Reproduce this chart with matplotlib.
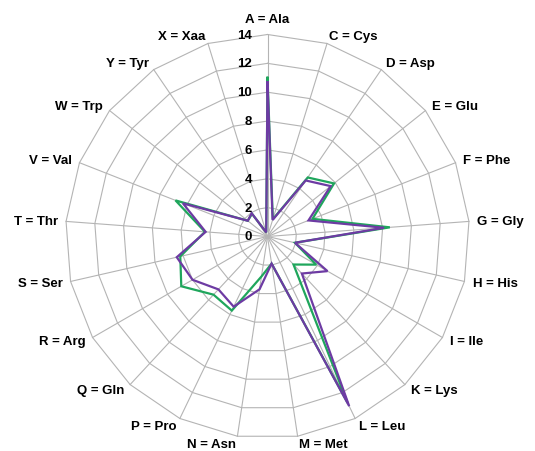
import numpy as np
import matplotlib
matplotlib.use("Agg")
import matplotlib.pyplot as plt

# Amino-acid composition (%) of two sequences, in the order shown clockwise
codes = ['A', 'C', 'D', 'E', 'F', 'G', 'H', 'I', 'K', 'L', 'M',
         'N', 'P', 'Q', 'R', 'S', 'T', 'V', 'W', 'Y', 'X']
names = ['Ala', 'Cys', 'Asp', 'Glu', 'Phe', 'Gly', 'His', 'Ile', 'Lys', 'Leu', 'Met',
         'Asn', 'Pro', 'Gln', 'Arg', 'Ser', 'Thr', 'Val', 'Trp', 'Tyr', 'Xaa']
seq_green = [11.0, 1.25, 4.95, 5.9, 3.35, 8.5, 1.95, 3.9, 2.65, 12.8, 1.9,
             2.8, 5.7, 5.5, 6.9, 6.2, 4.35, 6.85, 1.75, 1.9, 0.3]
seq_purple = [10.7, 1.2, 4.7, 5.6, 3.05, 8.1, 1.95, 4.8, 3.5, 13.05, 1.9,
              3.7, 5.4, 5.0, 6.0, 6.45, 4.3, 6.3, 1.75, 1.95, 0.3]
ring_values = [0, 2, 4, 6, 8, 10, 12, 14]

plt.rcParams['font.family'] = ['Liberation Sans', 'DejaVu Sans']

W, H = 535, 452
fig = plt.figure(figsize=(W / 100, H / 100), dpi=100)
cx, cy, R = 267.5, 237.5, 202.0
ax = fig.add_axes([(cx - R) / W, (H - cy - R) / H, 2 * R / W, 2 * R / H],
                  projection='polar')
ax.set_theta_zero_location('N')
ax.set_theta_direction(-1)
ax.set_ylim(0, ring_values[-1])
ax.set_xticks([])
ax.set_yticks([])
ax.grid(False)
ax.spines['polar'].set_visible(False)
ax.patch.set_alpha(0)

n = len(codes)
angles = np.arange(n) * 2 * np.pi / n
closed = np.append(angles, angles[0])
grid_col = '#b4b4b4'

# polygonal rings and spokes
for r in ring_values[1:]:
    ax.plot(closed, [r] * (n + 1), color=grid_col, lw=0.8, zorder=1, clip_on=False)
for a in angles:
    ax.plot([a, a], [0, ring_values[-1]], color=grid_col, lw=0.8, zorder=1, clip_on=False)

# data series
ax.plot(closed, seq_green + seq_green[:1], color='#1fa65c', lw=1.6, zorder=3,
        solid_joinstyle='miter', clip_on=False)
ax.plot(closed, seq_purple + seq_purple[:1], color='#6d3ba3', lw=1.6, zorder=4,
        solid_joinstyle='miter', clip_on=False)

# radial value labels along the first spoke
for r in ring_values:
    ax.annotate(str(r), xy=(0, r), xytext=(-11, 0), textcoords='offset points',
                ha='right', va='center', fontsize=9.5, fontweight='bold',
                annotation_clip=False)

# category labels
for a, c, nm in zip(angles, codes, names):
    s, co = np.sin(a), np.cos(a)
    label = f'{c} = {nm}'
    if abs(s) < 0.01:
        ax.annotate(label, xy=(a, ring_values[-1]), xytext=(0, 7),
                    textcoords='offset points', ha='center', va='bottom',
                    fontsize=9.5, fontweight='bold', annotation_clip=False)
    else:
        ha = 'left' if s > 0 else 'right'
        ax.annotate(label, xy=(a, ring_values[-1]), xytext=(6 * s, 5.6 * co),
                    textcoords='offset points', ha=ha, va='center',
                    fontsize=9.5, fontweight='bold', annotation_clip=False)

fig.savefig('out.png', dpi=100)
